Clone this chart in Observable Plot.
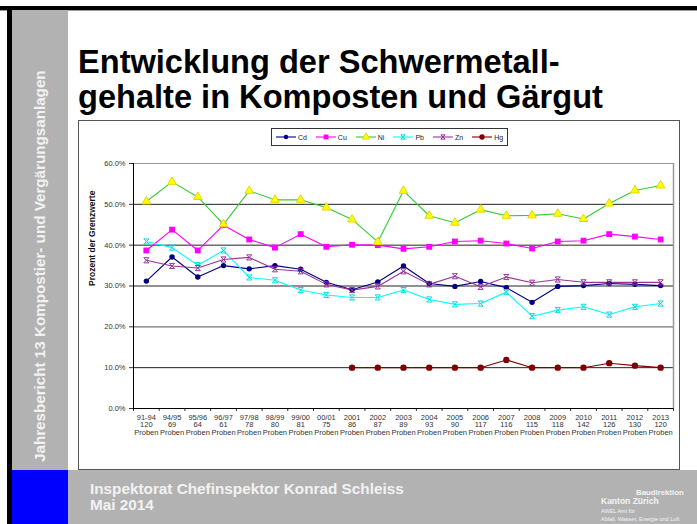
<!DOCTYPE html>
<html><head><meta charset="utf-8">
<script src="https://cdn.jsdelivr.net/npm/d3@7"></script>
<script src="https://cdn.jsdelivr.net/npm/@observablehq/plot@0.6"></script>
<style>
body{margin:0;width:697px;height:524px;position:relative;overflow:hidden;background:#fff;font-family:"Liberation Sans",Arial,sans-serif;}
.abs{position:absolute;}
#legend{position:absolute;left:271px;top:128px;width:237px;height:18px;box-sizing:border-box;border:1px solid #333;background:#fff;display:flex;align-items:center;justify-content:center;gap:9px;font-size:7px;color:#222;}
#legend .it{display:flex;align-items:center;gap:2px;}
</style></head><body>
<div class="abs" style="left:0;top:6px;width:697px;height:4px;background:#000"></div>
<div class="abs" style="left:0;top:10px;width:697px;height:1px;background:#999"></div>
<div class="abs" style="left:7px;top:6px;width:5px;height:518px;background:#000"></div>
<div class="abs" style="left:12px;top:10px;width:56px;height:460px;background:#b2b2b2"></div>
<div class="abs" style="left:12px;top:470px;width:56px;height:54px;background:#0000ff"></div>
<div class="abs" style="left:68px;top:470px;width:629px;height:54px;background:#b2b2b2"></div>
<svg class="abs" style="left:0;top:0" width="697" height="524" font-family="Liberation Sans, Arial, sans-serif">
  <text x="78" y="73" font-size="32.6" font-weight="bold" fill="#000">Entwicklung der Schwermetall-</text>
  <text x="78" y="108" font-size="32.6" font-weight="bold" fill="#000">gehalte in Komposten und Gärgut</text>
  <text transform="translate(45,462) rotate(-90)" font-size="15.2" font-weight="bold" fill="#f2f2f2">Jahresbericht 13 Kompostier- und Vergärungsanlagen</text>
  <text x="90" y="494" font-size="15.3" font-weight="bold" fill="#f2f2f2">Inspektorat Chefinspektor Konrad Schleiss</text>
  <text x="90" y="510" font-size="15.3" font-weight="bold" fill="#f2f2f2">Mai 2014</text>
  <text x="636" y="495" font-size="7.8" font-weight="bold" fill="#f4f4f4">Baudirektion</text>
  <text x="601" y="504" font-size="8.5" font-weight="bold" fill="#f4f4f4">Kanton Zürich</text>
  <text x="601" y="513" font-size="5.5" fill="#f4f4f4">AWEL  Amt für</text>
  <text x="601" y="521" font-size="5.5" fill="#f4f4f4">Abfall, Wasser, Energie und Luft</text>
</svg>
<div class="abs" style="left:78px;top:120px;width:602px;height:350px;box-sizing:border-box;border:1px solid #555;background:#fff"></div>
<div id="chart" class="abs" style="left:79px;top:121px;"></div>
<div id="legend"></div>
<script>
const categories = ["91-94","94/95","95/96","96/97","97/98","98/99","99/00","00/01","2001","2002","2003","2004","2005","2006","2007","2008","2009","2010","2011","2012","2013"];
const samples = [120,69,64,61,78,80,81,75,86,87,89,93,90,117,116,115,118,142,126,130,120];
const Cd = [31.2,37.1,32.2,35.0,34.2,35.0,34.1,30.9,29.1,31.0,34.9,30.6,29.9,31.1,29.6,26.0,29.9,30.1,30.6,30.4,30.1];
const Cu = [38.7,43.8,38.7,44.9,41.4,39.4,42.7,39.6,40.1,40.0,39.1,39.6,40.9,41.1,40.4,39.2,40.9,41.1,42.7,42.1,41.4];
const Ni = [50.7,55.5,51.8,45.1,53.3,51.1,51.1,49.2,46.3,40.8,53.3,47.2,45.5,48.7,47.2,47.3,47.7,46.4,50.2,53.4,54.6];
const Pb = [40.9,39.4,35.1,38.7,32.1,31.4,29.0,27.8,27.2,27.2,29.0,26.7,25.5,25.7,28.5,22.6,24.1,24.9,23.0,24.9,25.7];
const Zn = [36.3,34.9,34.4,36.5,37.0,34.1,33.6,30.4,29.0,29.9,33.6,30.4,32.4,29.8,32.2,30.8,31.6,30.9,30.9,30.9,30.9];
const Hg = [null,null,null,null,null,null,null,null,10.0,10.0,10.0,10.0,10.0,10.0,11.9,10.0,10.0,10.0,11.1,10.5,10.0];
const yTicks = [0,10,20,30,40,50,60];
const yLabel = "Prozent der Grenzwerte";

const boxX = {draw(ctx, size){ const s = Math.sqrt(size)/2; ctx.moveTo(-s,-s); ctx.lineTo(s,s); ctx.moveTo(s,-s); ctx.lineTo(-s,s); ctx.moveTo(-s,-s); ctx.lineTo(s,-s); ctx.moveTo(-s,s); ctx.lineTo(s,s); }};

const seriesStyle = [
  {name:"Cd", values:Cd, line:"#000080", fill:"#000080", stroke:"none", symbol:"circle", r:2.7},
  {name:"Cu", values:Cu, line:"#ff00ff", fill:"#ff00ff", stroke:"none", symbol:"square", r:3.3},
  {name:"Ni", values:Ni, line:"#33cc33", fill:"#ffff00", stroke:"#e6d800", symbol:"triangle", r:3.2},
  {name:"Pb", values:Pb, line:"#00ffff", fill:"none", stroke:"#00dddd", symbol:boxX, r:2.9},
  {name:"Zn", values:Zn, line:"#993399", fill:"#c8a8c8", stroke:"#993399", symbol:boxX, r:2.9},
  {name:"Hg", values:Hg, line:"#800000", fill:"#800000", stroke:"none", symbol:"circle", r:3.2}
];

const idx = categories.map((c,i)=>i);
const marks = [];
const n = categories.length;
marks.push(Plot.ruleY(yTicks.filter(v=>v>0 && v<60 && v!==20), {stroke:"#222", strokeWidth:1}));
marks.push(Plot.ruleY([20], {stroke:"#777", strokeWidth:1.2}));
marks.push(Plot.ruleY([60], {stroke:"#999", strokeWidth:1}));
marks.push(Plot.ruleX([n-0.5], {y1:0, y2:60, stroke:"#999", strokeWidth:1.5}));
marks.push(Plot.ruleX([-0.5], {y1:0, y2:60, stroke:"#000", strokeWidth:1}));
marks.push(Plot.ruleY([0], {stroke:"#000", strokeWidth:1}));
for (const s of seriesStyle) {
  const d = idx.filter(i=>s.values[i]!=null);
  marks.push(Plot.line(d, {x:i=>i, y:i=>s.values[i], stroke:s.line, strokeWidth:1.1}));
}
for (const s of seriesStyle) {
  const d = idx.filter(i=>s.values[i]!=null);
  marks.push(Plot.dot(d, {x:i=>i, y:i=>s.values[i], symbol:()=>s.symbol, r:s.r, fill:s.fill, stroke:s.stroke, strokeWidth:1}));
}
marks.push(Plot.text(idx, {x:i=>i, y:0, text:i=>`${categories[i]}\n${samples[i]}\nProben`, dy:6, lineAnchor:"top", lineHeight:1.0, fontSize:7.5, fill:"#333"}));
marks.push(Plot.text([yLabel], {frameAnchor:"left", dx:-41, rotate:-90, fontWeight:"bold", fontSize:8.5, fill:"#111"}));

const chart = Plot.plot({
  width:600, height:348,
  marginLeft:54, marginRight:6, marginTop:42, marginBottom:61,
  style:{fontFamily:"Liberation Sans, Arial, sans-serif", fontSize:"7.5px", color:"#333", background:"transparent", overflow:"visible"},
  x:{type:"linear", domain:[-0.5, n-0.5], ticks:d3.range(n+1).map(i=>i-0.5), tickSize:3, tickFormat:()=>"", label:null},
  y:{domain:[0,60], ticks:yTicks, tickFormat:d=>d.toFixed(1)+"%", tickSize:4, tickPadding:4, label:null},
  symbol:{type:"identity"},
  marks
});
document.getElementById("chart").appendChild(chart);

const leg = d3.select("#legend");
for (const s of seriesStyle) {
  const it = leg.append("div").attr("class","it");
  const sv = it.append("svg").attr("width",20).attr("height",8);
  sv.append("line").attr("x1",0).attr("x2",20).attr("y1",4).attr("y2",4).attr("stroke",s.line).attr("stroke-width",1.1);
  const type = typeof s.symbol === "string" ? {circle:d3.symbolCircle, square:d3.symbolSquare, triangle:d3.symbolTriangle}[s.symbol] : s.symbol;
  sv.append("path").attr("transform","translate(10,4)").attr("d", d3.symbol(type, Math.PI*s.r*s.r*0.7)()).attr("fill",s.fill).attr("stroke",s.stroke);
  it.append("span").text(s.name);
}
</script>
</body></html>
